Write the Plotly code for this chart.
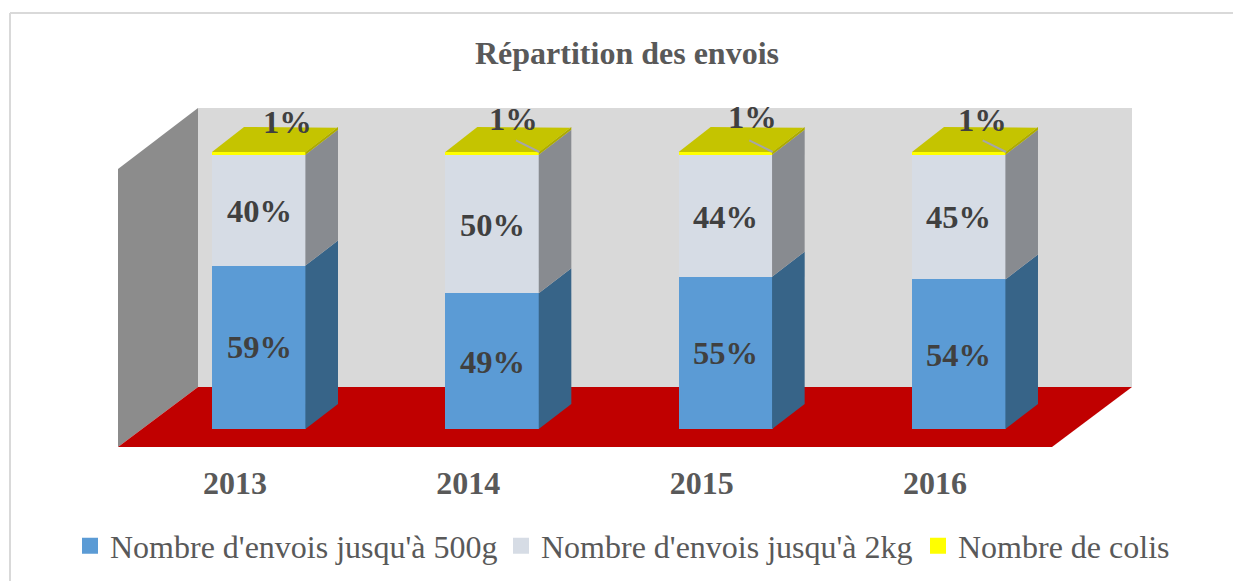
import plotly.graph_objects as go

# ---- data ----
years = ["2013", "2014", "2015", "2016"]
upto_500g = [59, 49, 55, 54]
upto_2kg = [40, 50, 44, 45]
colis = [1, 1, 1, 1]
series_names = ["Nombre d'envois jusqu'à 500g", "Nombre d'envois jusqu'à 2kg", "Nombre de colis"]
series_values = [upto_500g, upto_2kg, colis]

# ---- style ----
FONT = "Liberation Serif"
W, H = 1233, 581
FLOOR_FRONT_PX = 447
BASE_PX = 429
PX_PER_PCT = 2.77
CAT0_PX = 259
CAT_STEP_PX = 233.33
BAR_W = 94 / CAT_STEP_PX
SEAM = 0.6 / CAT_STEP_PX
front_colors = ["#5B9BD5", "#D6DCE5", "#FFFF00"]
side_colors = ["#376488", "#888B90", "#ACAA00"]
TOP_COLOR = "#C5C400"


def X(px):
    return (px - CAT0_PX) / CAT_STEP_PX


def Y(py):
    return (BASE_PX - py) / PX_PER_PCT


DX = 32 / CAT_STEP_PX
DY = 25 / PX_PER_PCT
idx = list(range(len(years)))

fig = go.Figure()

# stacked fronts and their 3-D side / top faces
bottoms = [0] * len(years)
for name, vals, fc, sc in zip(series_names, series_values, front_colors, side_colors):
    fig.add_trace(go.Bar(x=idx, y=vals, base=bottoms, width=BAR_W, marker=dict(color=fc, line=dict(width=0)),
                         name=name, showlegend=False, hoverinfo="skip"))
    for i in idx:
        r = i + BAR_W / 2
        y0, y1 = bottoms[i], bottoms[i] + vals[i]
        fig.add_trace(go.Scatter(x=[r - SEAM, r + DX, r + DX, r - SEAM, r - SEAM],
                                 y=[y0, y0 + DY, y1 + DY, y1, y0],
                                 mode="lines", fill="toself", fillcolor=sc, line=dict(width=0),
                                 showlegend=False, hoverinfo="skip"))
    bottoms = [b + v for b, v in zip(bottoms, vals)]

for i in idx:
    l, r = i - BAR_W / 2, i + BAR_W / 2
    t = bottoms[i]
    fig.add_trace(go.Scatter(x=[l, r, r + DX * 0.97, l + DX, l], y=[t, t, t + DY * 0.97, t + DY, t],
                             mode="lines", fill="toself", fillcolor=TOP_COLOR, line=dict(width=0),
                             showlegend=False, hoverinfo="skip"))

# data labels: nudges are in pixels relative to the segment's centre
label_dy = [[0, -1, 0, -1], [-1, -1, -1, 0], [0, 0, 0, 0]]
top_label_dx = [28, 21, 27, 24]
top_label_py = [122, 119, 117, 120]
label_font = dict(family=FONT, size=32.5, color="#404040", weight="bold")
annotations = []
for s, vals in enumerate(series_values):
    start = [sum(series_values[k][i] for k in range(s)) for i in idx]
    for i in idx:
        if s < 2:
            annotations.append(dict(x=i, y=start[i] + vals[i] / 2, xref="x", yref="y", showarrow=False,
                                    text=f"{vals[i]}%", yshift=label_dy[s][i], font=label_font))
        else:
            annotations.append(dict(x=i, y=Y(top_label_py[i]), xref="x", yref="y", showarrow=False,
                                    text=f"{vals[i]}%", xshift=top_label_dx[i], font=label_font))

# leader lines from the small labels to the bar tops (not on the first year)
lx, ly = [], []
for i in idx[1:]:
    lx += [i + BAR_W / 2 - 0.1, i + BAR_W / 2, None]
    ly += [bottoms[i] + 4.2, bottoms[i], None]
fig.add_trace(go.Scatter(x=lx, y=ly, mode="lines", line=dict(color="#A6A6A6", width=2),
                         showlegend=False, hoverinfo="skip"))

# legend entries, each in its own legend so their positions can be set
legend_px = [70, 501, 918]
legend_ids = ["legend", "legend2", "legend3"]
for name, fc, lid in zip(series_names, front_colors, legend_ids):
    fig.add_trace(go.Scatter(x=[None], y=[None], mode="markers", name=name, legend=lid,
                             marker=dict(symbol="square", size=16, color=fc), hoverinfo="skip"))

# chart walls and floor
shapes = [
    dict(type="path", layer="below", line=dict(width=0), fillcolor="#D9D9D9",
         path=f"M{X(198)},{Y(108)} L{X(1132)},{Y(108)} L{X(1132)},{Y(387)} L{X(198)},{Y(387)} Z"),
    dict(type="path", layer="below", line=dict(width=0), fillcolor="#8C8C8C",
         path=f"M{X(118)},{Y(447)} L{X(118)},{Y(169)} L{X(198)},{Y(108)} L{X(198)},{Y(387)} Z"),
    dict(type="path", layer="below", line=dict(width=0), fillcolor="#C00000",
         path=f"M{X(118)},{Y(447)} L{X(1052)},{Y(447)} L{X(1132)},{Y(387)} L{X(198)},{Y(387)} Z"),
    dict(type="line", xref="paper", yref="paper", x0=10 / W, x1=10 / W, y0=-1, y1=(447 - 13) / 447,
         line=dict(color="#D9D9D9", width=2)),
    dict(type="line", xref="paper", yref="paper", x0=10 / W, x1=1, y0=(447 - 13) / 447, y1=(447 - 13) / 447,
         line=dict(color="#D9D9D9", width=2)),
]

legend_common = dict(orientation="h", xanchor="left", yanchor="middle", y=(447 - 546) / 447,
                     bgcolor="rgba(0,0,0,0)", itemclick=False, itemdoubleclick=False,
                     font=dict(family=FONT, size=32, color="#595959"))

fig.update_layout(
    width=W, height=H, autosize=False,
    margin=dict(l=0, r=0, t=0, b=H - FLOOR_FRONT_PX, pad=0, autoexpand=False),
    paper_bgcolor="#FFFFFF", plot_bgcolor="rgba(0,0,0,0)",
    barmode="overlay", bargap=0,
    title=dict(text="Répartition des envois", x=627 / W, xanchor="center", y=1 - 53 / H, yanchor="middle",
               font=dict(family=FONT, size=32, color="#595959", weight="bold")),
    xaxis=dict(range=[X(0), X(W)], tickmode="array", tickvals=idx, ticktext=years, ticklabelshift=-24,
               showgrid=False, zeroline=False, showline=False, ticks="outside", ticklen=8,
               tickcolor="rgba(0,0,0,0)", automargin=False,
               tickfont=dict(family=FONT, size=32, color="#595959", weight="bold")),
    yaxis=dict(range=[Y(FLOOR_FRONT_PX), Y(0)], visible=False, automargin=False),
    shapes=shapes,
    annotations=annotations,
    legend=dict(x=legend_px[0] / W, **legend_common),
    legend2=dict(x=legend_px[1] / W, **legend_common),
    legend3=dict(x=legend_px[2] / W, **legend_common),
)

fig.write_html("out.html", config={"displayModeBar": False},
               post_script="document.body.style.margin='0';document.documentElement.style.overflow='hidden';")
